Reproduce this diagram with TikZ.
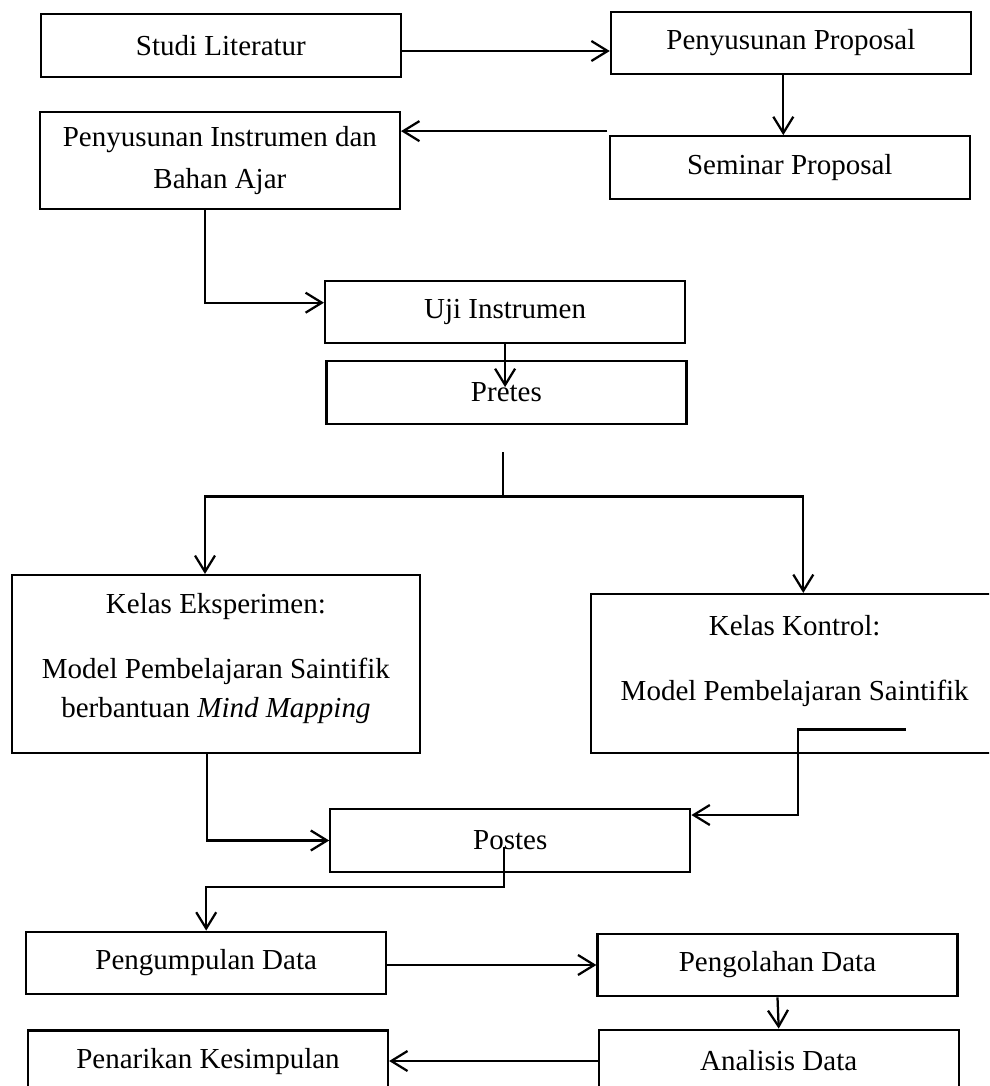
\documentclass[tikz,border=0pt]{standalone}
\usepackage{fontspec}
\setmainfont{Liberation Serif}
\usetikzlibrary{calc,arrows.meta}

\tikzset{
  box/.style={draw, minimum width=144pt, minimum height=25pt, inner sep=0pt,
    align=center, font=\fontsize{11.6}{16.7}\selectfont},
  arr/.style={-{Straight Barb[length=6.5pt,width=8pt]}},
}

\begin{document}
\begin{tikzpicture}[x=0.4pt, y=-0.4pt, line width=0.9pt]
  \path[use as bounding box, clip] (0,0) rectangle (989,1086);

  \node[box] (studi) at (220.9,45.5) {Studi Literatur};
  \node[box] (proposal) at (790.9,43) {Penyusunan Proposal};
  \node[box] (seminar) at (789.8,167.5) {Seminar Proposal};
  \node[box, minimum height=38.8pt] (instrumen) at (219.9,160.5) {Penyusunan Instrumen dan\\Bahan Ajar};
  \node[box] (uji) at (505.1,312) {Uji Instrumen};
  \node[box] (pretes) at (506.4,392.5) {Pretes};
  \node[box, minimum width=163.3pt, minimum height=71.3pt] (eksperimen) at (215.9,664.2)
    {Kelas Eksperimen:\\[9.3pt]Model Pembelajaran Saintifik\\[-1.1pt]berbantuan \textit{Mind Mapping}\\[-9.7pt]\mbox{}};
  \node[box, minimum width=163.2pt, minimum height=63.7pt] (kontrol) at (794.7,673.7)
    {Kelas Kontrol:\\[9.3pt]Model Pembelajaran Saintifik\\[-3.9pt]\mbox{}};
  \node[box] (postes) at (510.3,840.5) {Postes};
  \node[box] (kumpul) at (206.2,963) {Pengumpulan Data};
  \node[box] (olah) at (777.5,965) {Pengolahan Data};
  \node[box] (tarik) at (208,1061.7) {Penarikan Kesimpulan};
  \node[box] (analisis) at (778.7,1061) {Analisis Data};

  \draw[arr] ($(studi.east)+(0,5.5)$) coordinate (s1) -- (s1 -| proposal.west);
  \draw[arr] ($(proposal.south)+(-7.6,0)$) coordinate (p1) -- (p1 |- seminar.north);
  \draw[arr] ($(seminar.north west)+(-1.3,-4)$) coordinate (m1) -- (m1 -| instrumen.east);
  \draw[arr] ($(instrumen.south)+(-14.6,0)$) |- ($(uji.west)+(0,-9.3)$);
  \draw[arr] (uji.south) -- ++(0,42.7);

  \coordinate (split) at ($(pretes.south)+(-3.4,71.7)$);
  \draw (split) -- ++(0,-45);
  \draw[arr] (split) -| ($(eksperimen.north)+(-10.9,0)$);
  \draw[arr] (split) -| ($(kontrol.north)+(8.6,0)$);

  \draw[arr] ($(eksperimen.south)+(-8.6,0)$) |- (postes.west);
  \draw[arr] ($(kontrol.south)+(111,-25)$) -- ++(-108,0) |- ($(postes.east)+(0,-25.5)$);
  \draw[arr] ($(postes.center)+(-6.3,6.2)$) -- ++(0,40.6) -| (kumpul.north);
  \draw[arr] (kumpul.east |- olah.west) -- (olah.west);
  \draw[arr] (olah.south) -- (analisis.north);
  \draw[arr] (analisis.west) -- (analisis.west -| tarik.east);
\end{tikzpicture}
\end{document}
